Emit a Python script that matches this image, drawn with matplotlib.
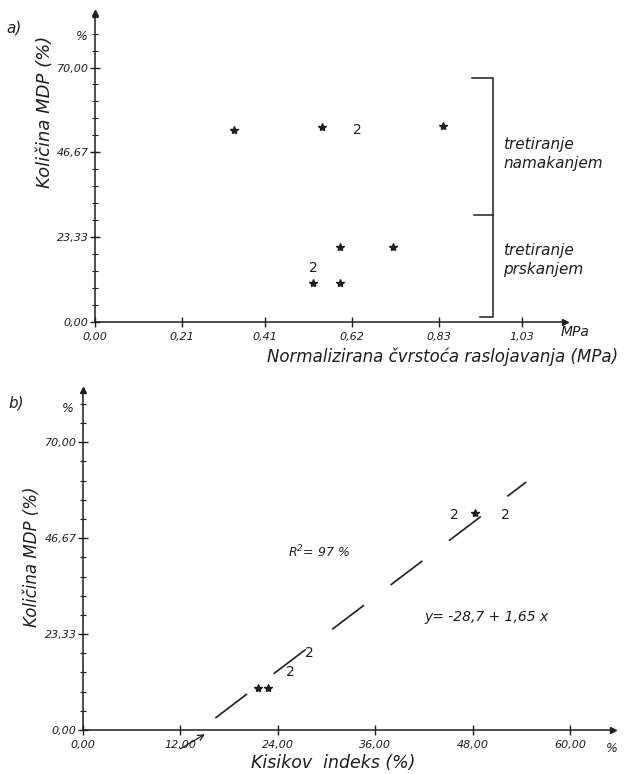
import numpy as np
import matplotlib
matplotlib.use('Agg')
import matplotlib.pyplot as plt
from matplotlib.ticker import FixedLocator, MultipleLocator

# ---- data ----
# panel a) : normalized delamination strength vs. amount of MDP
a_x = [0.336, 0.548, 0.633, 0.840, 0.592, 0.720, 0.527, 0.527, 0.592]
a_y = [52.7, 53.6, 52.7, 53.8, 20.6, 20.6, 14.8, 10.7, 10.7]
a_mark = ['*', '*', '2', '*', '*', '*', '2', '*', '*']
a_xticks = [0.00, 0.21, 0.41, 0.62, 0.83, 1.03]
a_xlabels = ['0,00', '0,21', '0,41', '0,62', '0,83', '1,03']

# panel b) : oxygen index vs. amount of MDP
b_x = [21.5, 22.8, 25.5, 27.9, 45.8, 48.3, 52.0]
b_y = [10.2, 10.2, 14.1, 18.7, 52.3, 52.8, 52.3]
b_mark = ['*', '*', '2', '2', '2', '*', '2']
b_xticks = [0, 12, 24, 36, 48, 60]
b_xlabels = ['0,00', '12,00', '24,00', '36,00', '48,00', '60,00']
# hand drawn regression line, end points as drawn
b_line_x = [16.3, 54.6]
b_line_y = [2.9, 60.3]

y_ticks = [0.0, 23.33, 46.67, 70.0]
y_labels = ['0,00', '23,33', '46,67', '70,00']

ink = '#1e1e1e'
W, H = 628, 774
plt.rcParams['font.family'] = 'DejaVu Sans'
plt.rcParams['font.style'] = 'italic'

fig = plt.figure(figsize=(W / 100, H / 100), dpi=100)


def px(x, y):
    # pixel position (from top left) -> figure fraction
    return x / W, 1 - y / H


def make_axes(left, top, right, bottom, xmax, ymax):
    ax = fig.add_axes([left / W, 1 - bottom / H, (right - left) / W, (bottom - top) / H])
    ax.set_xlim(0, xmax)
    ax.set_ylim(0, ymax)
    for s in ['top', 'right']:
        ax.spines[s].set_visible(False)
    for s in ['left', 'bottom']:
        ax.spines[s].set_color(ink)
        ax.spines[s].set_linewidth(1.1)
    ax.yaxis.set_major_locator(FixedLocator(y_ticks))
    ax.set_yticklabels(y_labels)
    ax.yaxis.set_minor_locator(MultipleLocator(70 / 15))
    ax.tick_params(which='both', direction='inout', colors=ink, labelsize=8)
    ax.tick_params(which='major', length=7, width=1)
    ax.tick_params(which='minor', length=4, width=0.8)
    ax.tick_params(axis='x', pad=4)
    ax.tick_params(axis='y', pad=1)
    # arrow heads at the axis ends
    ax.plot(1, 0, '>', color=ink, ms=5, transform=ax.transAxes, clip_on=False)
    ax.plot(0, 1, '^', color=ink, ms=4, transform=ax.transAxes, clip_on=False)
    ax.patch.set_alpha(0)
    return ax


def draw_points(ax, xs, ys, marks):
    for x, y, m in zip(xs, ys, marks):
        if m == '*':
            ax.plot(x, y, marker='*', color=ink, ms=6, ls='none')
        else:
            ax.text(x, y, m, ha='center', va='center', fontsize=10,
                    fontstyle='normal', color=ink)


# ---------------- panel a ----------------
axa = make_axes(95, 13, 565, 322, 1.135, 85)
axa.xaxis.set_major_locator(FixedLocator(a_xticks))
axa.set_xticklabels(a_xlabels)
draw_points(axa, a_x, a_y, a_mark)

# bracket with the two treatment groups
bx = 0.961
axa.plot([0.91, bx, bx, 0.93], [67, 67, 1.4, 1.4], color=ink, lw=1.1, clip_on=False)
axa.plot([0.915, bx], [29.4, 29.4], color=ink, lw=1.1)
fig.text(*px(503, 154), 'tretiranje\nnamakanjem', fontsize=11, color=ink,
         va='center', ha='left', linespacing=1.4)
fig.text(*px(503, 260), 'tretiranje\nprskanjem', fontsize=11, color=ink,
         va='center', ha='left', linespacing=1.4)

fig.text(*px(6, 28), 'a)', fontsize=11, color=ink, va='center')
fig.text(*px(82, 36), '%', fontsize=9, color=ink, va='center', ha='center')
fig.text(*px(45, 112), 'Količina MDP (%)', fontsize=13, color=ink,
         rotation=90, va='center', ha='center')
fig.text(*px(575, 332), 'MPa', fontsize=10, color=ink, va='center', ha='center')
fig.text(*px(443, 357), 'Normalizirana čvrstoća raslojavanja (MPa)', fontsize=12,
         color=ink, va='center', ha='center')

# ---------------- panel b ----------------
axb = make_axes(83, 390, 613, 730, 65.3, 82.7)
axb.xaxis.set_major_locator(FixedLocator(b_xticks))
axb.set_xticklabels(b_xlabels)
draw_points(axb, b_x, b_y, b_mark)

ln, = axb.plot(b_line_x, b_line_y, color=ink, lw=1.2)
ln.set_dashes([24, 20])

# small arrow pointing to the x intercept
axb.annotate('', xy=(15.3, -0.7), xytext=(11.7, -4.9),
             arrowprops=dict(arrowstyle='->', color=ink, lw=0.9),
             annotation_clip=False)

axb.text(25.3, 43.3, r'R$^2$= 97 %', fontsize=9, color=ink, va='center', ha='left')
axb.text(42, 27.5, 'y= -28,7 + 1,65 x', fontsize=10, color=ink, va='center', ha='left')

fig.text(*px(8, 403), 'b)', fontsize=11, color=ink, va='center')
fig.text(*px(68, 408), '%', fontsize=9, color=ink, va='center', ha='center')
fig.text(*px(32, 557), 'Količina MDP (%)', fontsize=12, color=ink,
         rotation=90, va='center', ha='center')
fig.text(*px(612, 748), '%', fontsize=9, color=ink, va='center', ha='center')
fig.text(*px(333, 763), 'Kisikov  indeks (%)', fontsize=12.5, color=ink,
         va='center', ha='center')

fig.savefig('out.png', dpi=100)
